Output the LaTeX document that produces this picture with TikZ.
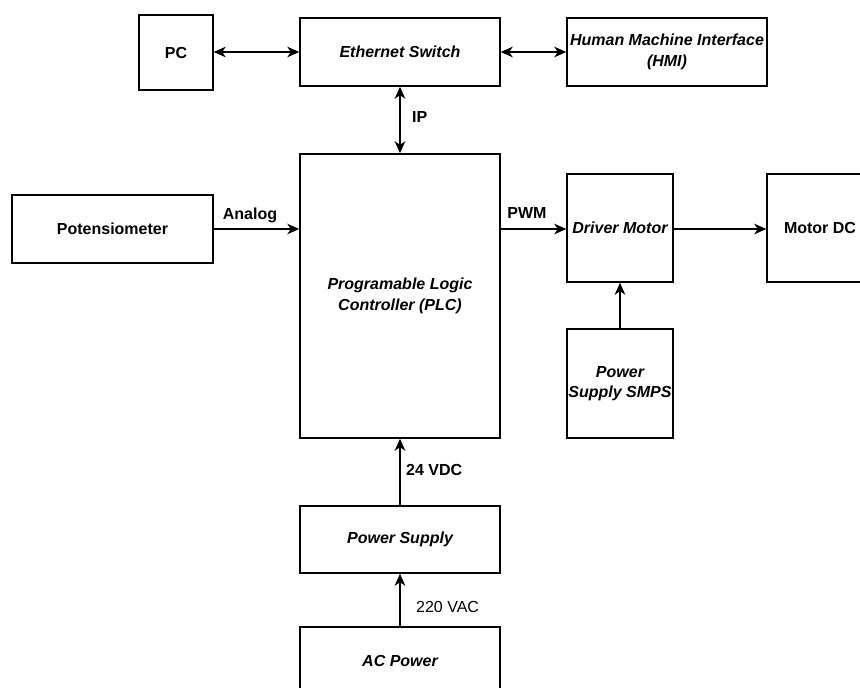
\documentclass[tikz,border=0pt]{standalone}
\usepackage{fontspec}
\setmainfont{Liberation Sans}
\usetikzlibrary{arrows.meta}
\begin{document}
\begin{tikzpicture}[x=1pt,y=-1pt,
  box/.style={draw=black, line width=1.4pt, rectangle, inner sep=0pt, align=center,
    font=\fontsize{16}{20.5}\selectfont\bfseries\itshape},
  boxb/.style={box, font=\fontsize{16}{20.5}\selectfont\bfseries},
  conn/.style={line width=1.5pt, -{Stealth[length=12pt,width=10.5pt,inset=3.5pt]}},
  biconn/.style={line width=1.5pt, {Stealth[length=12pt,width=10.5pt,inset=3.5pt]}-{Stealth[length=12pt,width=10.5pt,inset=3.5pt]}},
  lbl/.style={inner sep=0pt, font=\fontsize{16}{20}\selectfont\bfseries},
  lblr/.style={inner sep=0pt, font=\fontsize{16}{20}\selectfont}
]
\useasboundingbox[fill=white] (0,0) rectangle (860,688);

\node[boxb, minimum width=74pt, minimum height=75pt] (pc) at (176,52.5) {PC};
\node[box, minimum width=200pt, minimum height=68pt] (es) at (400,52) {Ethernet Switch};
\node[box, minimum width=200pt, minimum height=68pt] (hmi) at (667,52) {Human Machine Interface\\(HMI)};
\node[boxb, minimum width=201pt, minimum height=68pt] (pot) at (112.5,229) {Potensiometer};
\node[box, minimum width=200pt, minimum height=284pt] (plc) at (400,296) {Programable Logic\\Controller (PLC)};
\node[box, minimum width=106pt, minimum height=108pt] (drv) at (620,228) {Driver Motor};
\node[boxb, minimum width=106pt, minimum height=108pt] (mot) at (820,228) {Motor DC};
\node[box, minimum width=106pt, minimum height=109pt] (smps) at (620,383.5) {Power\\Supply SMPS};
\node[box, minimum width=200pt, minimum height=67pt] (ps) at (400,539.5) {Power Supply};
\node[box, minimum width=200pt, minimum height=67pt] (ac) at (400,660.5) {AC Power};

\draw[biconn] (pc.east |- 0,52) -- (es.west |- 0,52);
\draw[biconn] (es.east) -- (hmi.west);
\draw[biconn] (es.south) -- (plc.north);
\draw[conn] (pot.east |- 0,229) -- (plc.west |- 0,229);
\draw[conn] (plc.east |- 0,229) -- (drv.west |- 0,229);
\draw[conn] (drv.east |- 0,229) -- (mot.west |- 0,229);
\draw[conn] (smps.north) -- (drv.south);
\draw[conn] (ps.north) -- (plc.south);
\draw[conn] (ac.north) -- (ps.south);

\node[lbl, anchor=west] (lip) at (412,117) {IP};
\node[lbl] (lan) at (250,215) {Analog};
\node[lbl] (lpwm) at (527,213) {PWM};
\node[lbl, anchor=west] (l24) at (406,470) {24 VDC};
\node[lblr, anchor=west] (l220) at (416,607) {220 VAC};
\end{tikzpicture}
\end{document}
